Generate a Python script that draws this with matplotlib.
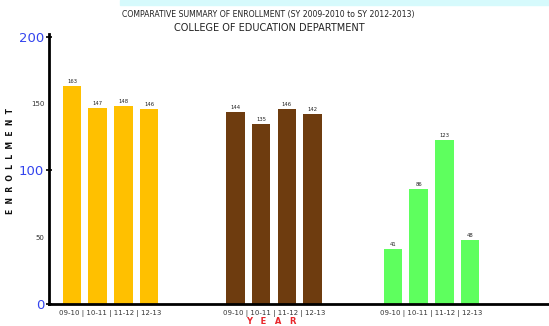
import matplotlib.pyplot as plt
from matplotlib.patches import Rectangle
import numpy as np

years = ['09-10', '10-11', '11-12', '12-13']
first_group = [163, 147, 148, 146]
second_group = [144, 135, 146, 142]
third_group = [41, 86, 123, 48]
groups = [first_group, second_group, third_group]
group_colors = ['#FFC000', '#6E3C0F', '#5EFF5E']
group_starts = [0.0, 6.36, 12.49]

major_ticks = [0, 100, 200]
minor_ticks = [50, 150]

fig = plt.figure(figsize=(5.49, 3.26), dpi=100)
fig.patch.set_facecolor('white')
fig.patches.append(Rectangle((120 / 549, 1 - 5 / 326), 1, 5 / 326,
                             transform=fig.transFigure, color='#D6FAFC', zorder=0))

ax = fig.add_axes([49 / 549, 22 / 326, 1 - 49 / 549, 270 / 326])

for vals, color, start in zip(groups, group_colors, group_starts):
    xs = start + np.arange(len(vals))
    ax.bar(xs, vals, width=0.72, color=color, zorder=2)
    for x, v in zip(xs, vals):
        ax.text(x, v + 1.5, str(v), ha='center', va='bottom', fontsize=3.8, color='#222222')

ax.set_xlim(-0.895, 18.56)
ax.set_ylim(0, 202)

for side in ['top', 'right']:
    ax.spines[side].set_visible(False)
ax.spines['left'].set_linewidth(2)
ax.spines['bottom'].set_linewidth(2)

centers = [s + 1.5 for s in group_starts]
ax.set_xticks(centers)
ax.set_xticklabels([' | '.join(years)] * 3, fontsize=5, color='#333333')
ax.tick_params(axis='x', length=0, pad=4)

ax.set_yticks(major_ticks)
ax.set_yticklabels([str(t) for t in major_ticks], fontsize=9.5, color='#3344EE')
ax.tick_params(axis='y', which='major', direction='inout', length=5, width=1.2, pad=1)
ax.set_yticks(minor_ticks, minor=True)
ax.set_yticklabels([str(t) for t in minor_ticks], minor=True, fontsize=5, color='#333333')
ax.tick_params(axis='y', which='minor', length=0, pad=3)

ax.set_ylabel('E  N  R  O  L  L  M  E  N  T', fontsize=5.5, color='#111111',
              fontweight='bold')
ax.yaxis.set_label_coords(-34 / 500, 0.53)

ax.text(centers[1] - 0.1, -17 / 270, 'Y   E   A   R', transform=ax.get_xaxis_transform(),
        ha='center', va='center', fontsize=6, fontweight='bold', color='#E8262B')

fig.text(268 / 549, 1 - 15 / 326, 'COMPARATIVE SUMMARY OF ENROLLMENT (SY 2009-2010 to SY 2012-2013)',
         ha='center', va='center', fontsize=5.6, color='#222222')
fig.text(269 / 549, 1 - 28 / 326, 'COLLEGE OF EDUCATION DEPARTMENT',
         ha='center', va='center', fontsize=7, color='#222222')

fig.savefig('out.png', dpi=100)
